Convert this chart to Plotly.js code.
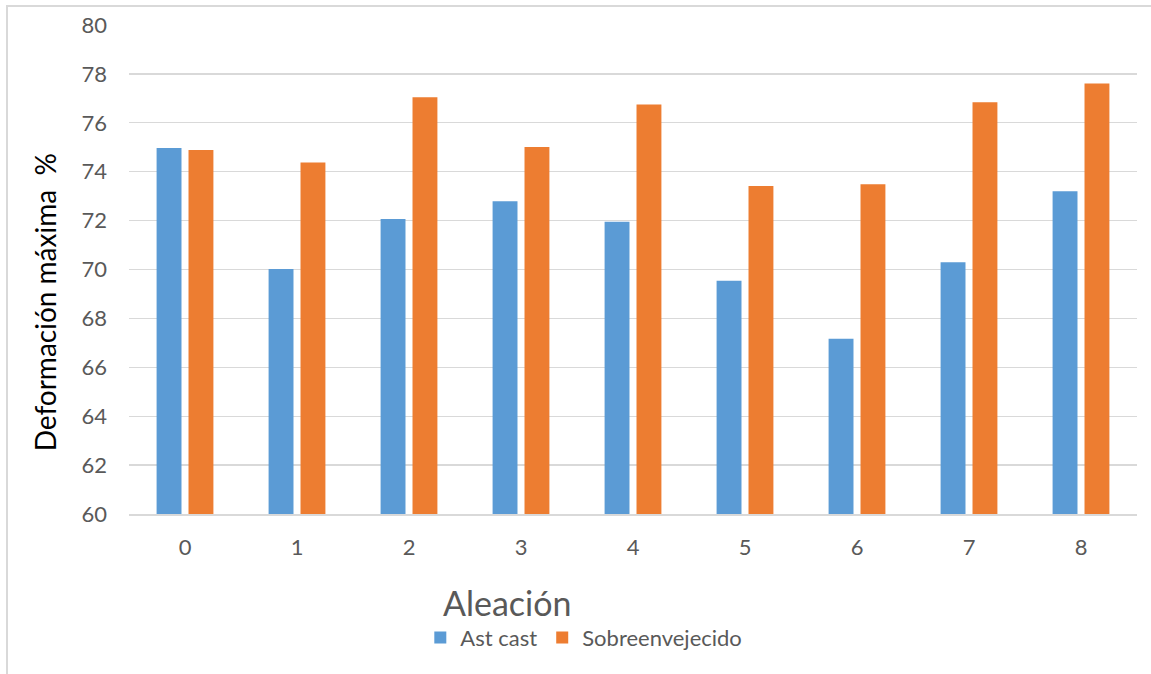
<!DOCTYPE html>
<html>
<head>
<meta charset="utf-8">
<script src="https://cdn.plot.ly/plotly-3.0.1.min.js"></script>
<style>
  html, body { margin: 0; padding: 0; background: #fff; }
  #frame { position: absolute; left: 6px; top: 5px; width: 1200px; height: 720px; border: 2px solid #d9d9d9; box-sizing: border-box; }
  #chart { position: absolute; left: 0; top: 0; width: 1151px; height: 674px; }
</style>
</head>
<body>
<div id="frame"></div>
<div id="chart"></div>
<script>
const categories = ["0", "1", "2", "3", "4", "5", "6", "7", "8"];
const astCast = [74.97, 70.02, 72.07, 72.79, 71.95, 69.54, 67.17, 70.30, 73.20];
const sobreenvejecido = [74.89, 74.38, 77.05, 75.01, 76.75, 73.42, 73.49, 76.84, 77.61];
const yTicks = [60, 62, 64, 66, 68, 70, 72, 74, 76, 78, 80];

const fontFam = "Lato, 'Open Sans', sans-serif";
const grey = "#595959";

const traces = [
  { type: "bar", name: "Ast cast", x: categories, y: astCast, marker: { color: "#5B9BD5" } },
  { type: "bar", name: "Sobreenvejecido", x: categories, y: sobreenvejecido, marker: { color: "#ED7D31" } }
];

const layout = {
  width: 1151, height: 674,
  margin: { l: 129, r: 14, t: 25, b: 160 },
  paper_bgcolor: "rgba(0,0,0,0)",
  plot_bgcolor: "#fff",
  barmode: "group",
  bargap: 0.43,
  bargroupgap: 0.22,
  font: { family: fontFam, color: grey, size: 22 },
  xaxis: {
    type: "category",
    showgrid: false,
    showline: true, linecolor: "#d9d9d9", linewidth: 1.5,
    ticks: "",
    ticklabelstandoff: 13,
    tickfont: { size: 22, color: grey },
    zeroline: false
  },
  yaxis: {
    range: [60, 80],
    tickvals: yTicks,
    ticktext: yTicks.map(String),
    showgrid: true, gridcolor: "#d9d9d9", gridwidth: 1.3,
    zeroline: false,
    showline: false,
    ticks: "",
    ticklabelstandoff: 21,
    tickfont: { size: 22, color: grey }
  },
  showlegend: true,
  legend: {
    orientation: "h",
    x: 0.289, xanchor: "left",
    y: -0.253, yanchor: "middle",
    font: { size: 22, color: grey },
    bgcolor: "rgba(0,0,0,0)",
    traceorder: "normal"
  },
  annotations: [
    {
      text: "Deformación máxima  %",
      xref: "paper", yref: "paper",
      x: -0.0833, y: 0.433,
      xanchor: "center", yanchor: "middle",
      textangle: -90,
      showarrow: false,
      font: { size: 28, color: "#000", family: fontFam }
    },
    {
      text: "Aleación",
      xref: "paper", yref: "paper",
      x: 0.375, y: -0.182,
      xanchor: "center", yanchor: "middle",
      showarrow: false,
      font: { size: 34, color: grey, family: fontFam }
    }
  ]
};

Plotly.newPlot("chart", traces, layout, { displayModeBar: false, staticPlot: true });
</script>
</body>
</html>
